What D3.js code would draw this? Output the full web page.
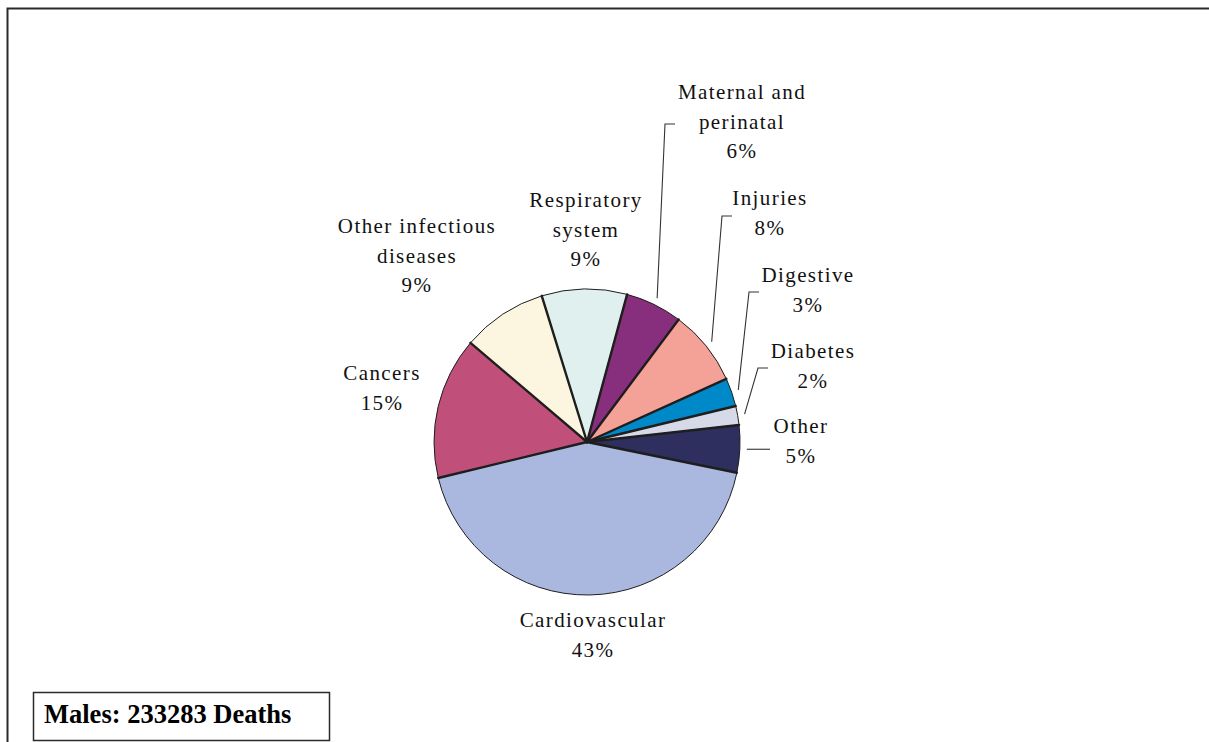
<!DOCTYPE html>
<html>
<head>
<meta charset="utf-8">
<script src="https://cdn.jsdelivr.net/npm/d3@7"></script>
<style>
  html, body { margin: 0; padding: 0; background: #fff; }
  svg { display: block; }
  .lbl { font-family: "Liberation Serif", "Times New Roman", serif; font-size: 21px; letter-spacing: 1.4px; fill: #111; }
</style>
</head>
<body>
<svg id="chart" width="1209" height="742"></svg>
<script>
// Causes of death, males — slice order runs clockwise from the top
const categories = ["Respiratory system", "Maternal and perinatal", "Injuries", "Digestive",
                    "Diabetes", "Other", "Cardiovascular", "Cancers", "Other infectious diseases"];
const shares = [9, 6, 8, 3, 2, 5, 43, 15, 9];           // percent of deaths
const labelLines = [["Respiratory", "system"], ["Maternal and", "perinatal"], ["Injuries"],
                    ["Digestive"], ["Diabetes"], ["Other"], ["Cardiovascular"], ["Cancers"],
                    ["Other infectious", "diseases"]];
const colors = ["#E0F0EF", "#872E7C", "#F4A198", "#0089C8", "#D6DAE8",
                "#2E2F5F", "#AAB8E0", "#C0507A", "#FCF5DF"];
const totalDeaths = 233283;

const W = 1209, H = 742;
const cx = 587, cy = 442, R = 153;
const startDeg = -17.2;

// label placement: centre x and first baseline y; leader corner (if any)
const labelLayout = [
  { x: 586, y: 207, leader: null },
  { x: 742, y: 99,  leader: [665, 124] },
  { x: 770, y: 205, leader: [722, 216] },
  { x: 808, y: 282, leader: [749, 292] },
  { x: 813, y: 358, leader: [758, 368] },
  { x: 801, y: 433, leader: [760, null] },
  { x: 593, y: 627, leader: null },
  { x: 382, y: 380, leader: null },
  { x: 417, y: 233, leader: null }
];

const svg = d3.select("#chart");

// chart frame
svg.append("path")
  .attr("d", `M7.5,${H} V8.5 H${W}`)
  .attr("fill", "none").attr("stroke", "#2a2a2a").attr("stroke-width", 2);

const data = categories.map((c, i) => ({ name: c, value: shares[i], color: colors[i], lines: labelLines[i], layout: labelLayout[i] }));

const toRad = d => d * Math.PI / 180;
const pie = d3.pie().sort(null).value(d => d.value)
  .startAngle(toRad(startDeg)).endAngle(toRad(startDeg) + 2 * Math.PI);
const arcs = pie(data);
const arc = d3.arc().innerRadius(0).outerRadius(R);

const g = svg.append("g").attr("transform", `translate(${cx},${cy})`);

g.selectAll("path.slice").data(arcs).join("path")
  .attr("class", "slice")
  .attr("d", arc)
  .attr("fill", d => d.data.color)
  .attr("stroke", "#1e1e1e").attr("stroke-width", 1);

// heavier radial separators between slices
g.selectAll("line.sep").data(arcs).join("line")
  .attr("class", "sep")
  .attr("x1", 0).attr("y1", 0)
  .attr("x2", d => R * Math.sin(d.startAngle))
  .attr("y2", d => -R * Math.cos(d.startAngle))
  .attr("stroke", "#1e1e1e").attr("stroke-width", 2.4).attr("stroke-linecap", "round");

// leader lines
const leaderPts = d => {
  const mid = (d.startAngle + d.endAngle) / 2;
  const sx = cx + (R + 7) * Math.sin(mid), sy = cy - (R + 7) * Math.cos(mid);
  const [lx, ly] = d.data.layout.leader;
  if (ly === null) return [[sx, sy], [lx + 10, sy]];
  return [[sx, sy], [lx, ly], [lx + 10, ly]];
};
svg.selectAll("path.leader").data(arcs.filter(d => d.data.layout.leader)).join("path")
  .attr("class", "leader")
  .attr("d", d => d3.line()(leaderPts(d)))
  .attr("fill", "none").attr("stroke", "#333").attr("stroke-width", 1.1);

// labels
const lineH = 29.5;
const lbl = svg.selectAll("text.lbl").data(arcs).join("text")
  .attr("class", "lbl")
  .attr("text-anchor", "middle");
lbl.each(function (d) {
  const t = d3.select(this);
  const L = d.data.layout;
  const rows = d.data.lines.concat([d3.format(".0f")(d.data.value) + "%"]);
  rows.forEach((r, i) => {
    t.append("tspan").attr("x", L.x).attr("y", L.y + i * lineH).text(r);
  });
});

// total deaths box
svg.append("rect")
  .attr("x", 33.5).attr("y", 692.5).attr("width", 296).attr("height", 48)
  .attr("fill", "#fff").attr("stroke", "#2a2a2a").attr("stroke-width", 1.5);
svg.append("text")
  .attr("x", 44).attr("y", 723)
  .attr("font-family", "'Liberation Serif', 'Times New Roman', serif")
  .attr("font-weight", "bold").attr("font-size", 26.5).attr("fill", "#000")
  .text(`Males: ${totalDeaths} Deaths`);
</script>
</body>
</html>
